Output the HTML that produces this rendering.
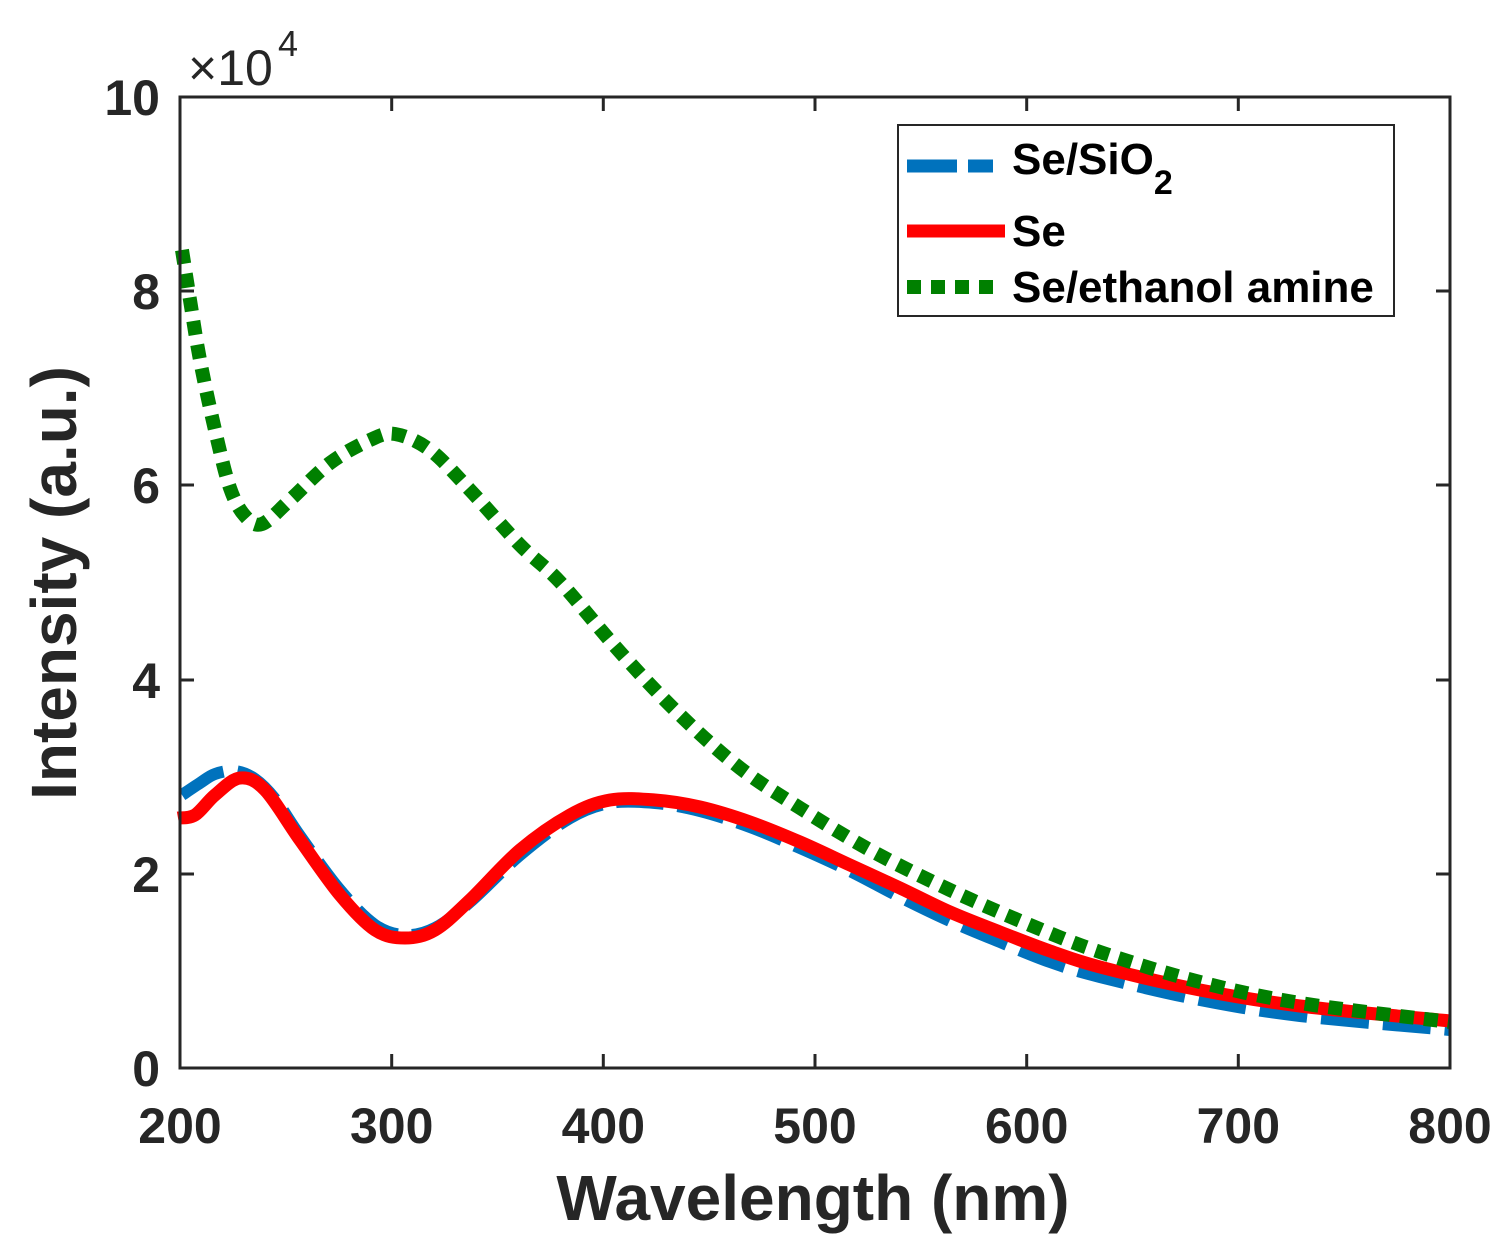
<!DOCTYPE html>
<html><head><style>body{margin:0;background:#fff}svg{display:block}text{font-family:"Liberation Sans",sans-serif;font-weight:bold;fill:#262626}</style></head>
<body>
<svg width="1511" height="1246" viewBox="0 0 1511 1246">
<rect width="1511" height="1246" fill="#fff"/>
<g fill="none" stroke-linejoin="round">
<path id="pb" stroke="#0072BD" stroke-width="12" stroke-dasharray="48 14" data-p="182,795 200,783 215,774 235,771 255,779 275,799 300,836 340,890 375,925 405,935 435,928 470,902 520,855 570,818 610,803 655,803 700,811 750,827 800,848 850,871 900,897 950,921 1000,942 1050,962 1100,977 1200,1000 1300,1016 1450,1030"/>
<path id="pr" stroke="#FF0000" stroke-width="13" data-p="178,818 195,815 215,795 240,778 265,790 300,840 340,895 375,930 405,938 435,930 470,900 520,850 570,815 610,800 655,800 700,807 750,822 800,842 850,865 900,888 950,912 1000,932 1050,951 1100,967 1200,990 1300,1006 1450,1021"/>
<path id="pg" stroke="#008000" stroke-width="14" stroke-dasharray="14 10" data-p="182,250 190,300 200,360 215,430 230,488 245,516 262,524 290,500 330,463 370,440 395,434 430,450 470,490 520,545 560,582 620,652 680,715 740,768 800,808 870,850 950,890 1030,925 1100,952 1200,982 1300,1003 1450,1022"/>
</g>
<g stroke="#262626" stroke-width="3" fill="none">
<rect x="180" y="97" width="1270" height="971"/>
<path d="M180,1068v-14M391.7,1068v-14M603.3,1068v-14M815,1068v-14M1026.7,1068v-14M1238.3,1068v-14M1450,1068v-14M391.7,97v14M603.3,97v14M815,97v14M1026.7,97v14M1238.3,97v14"/>
<path d="M180,874h14M180,680h14M180,485h14M180,291h14M1450,874h-14M1450,680h-14M1450,485h-14M1450,291h-14"/>
</g>
<g font-size="50" text-anchor="end">
<text x="160" y="1086">0</text><text x="160" y="892">2</text><text x="160" y="698">4</text><text x="160" y="503">6</text><text x="160" y="309">8</text><text x="160" y="115">10</text>
</g>
<g font-size="50" text-anchor="middle">
<text x="180" y="1143">200</text><text x="391.7" y="1143">300</text><text x="603.3" y="1143">400</text><text x="815" y="1143">500</text><text x="1026.7" y="1143">600</text><text x="1238.3" y="1143">700</text><text x="1450" y="1143">800</text>
</g>
<text x="188" y="85" font-size="50" style="font-weight:normal">×10</text>
<text x="278" y="56" font-size="36" style="font-weight:normal">4</text>
<text x="813" y="1220" font-size="64" text-anchor="middle">Wavelength (nm)</text>
<text transform="translate(76,583) rotate(-90)" font-size="64" text-anchor="middle">Intensity (a.u.)</text>
<rect x="898" y="125" width="496" height="191" fill="#fff" stroke="#262626" stroke-width="2"/>
<line x1="907" y1="166" x2="993" y2="166" stroke="#0072BD" stroke-width="13" stroke-dasharray="50 11"/>
<line x1="907" y1="231" x2="1005" y2="231" stroke="#FF0000" stroke-width="13"/>
<line x1="907" y1="287" x2="993" y2="287" stroke="#008000" stroke-width="14" stroke-dasharray="14 10"/>
<g font-size="44">
<text x="1012" y="174" style="fill:#000">Se/SiO<tspan font-size="34" dy="20">2</tspan></text>
<text x="1012" y="246" style="fill:#000">Se</text>
<text x="1012" y="302" style="fill:#000">Se/ethanol amine</text>
</g>
</svg>
<script>
['pb','pr','pg'].forEach(function(id){
var el=document.getElementById(id);
var p=el.getAttribute('data-p').split(' ').map(function(s){return s.split(',').map(Number);});
var d='M'+p[0][0]+','+p[0][1];
for(var i=0;i<p.length-1;i++){
var p0=p[i-1]||p[i],p1=p[i],p2=p[i+1],p3=p[i+2]||p2;
var c1x=p1[0]+(p2[0]-p0[0])/6,c1y=p1[1]+(p2[1]-p0[1])/6;
var c2x=p2[0]-(p3[0]-p1[0])/6,c2y=p2[1]-(p3[1]-p1[1])/6;
d+=' C'+c1x+','+c1y+' '+c2x+','+c2y+' '+p2[0]+','+p2[1];
}
el.setAttribute('d',d);el.removeAttribute('data-p');
});
</script>
</body></html>
